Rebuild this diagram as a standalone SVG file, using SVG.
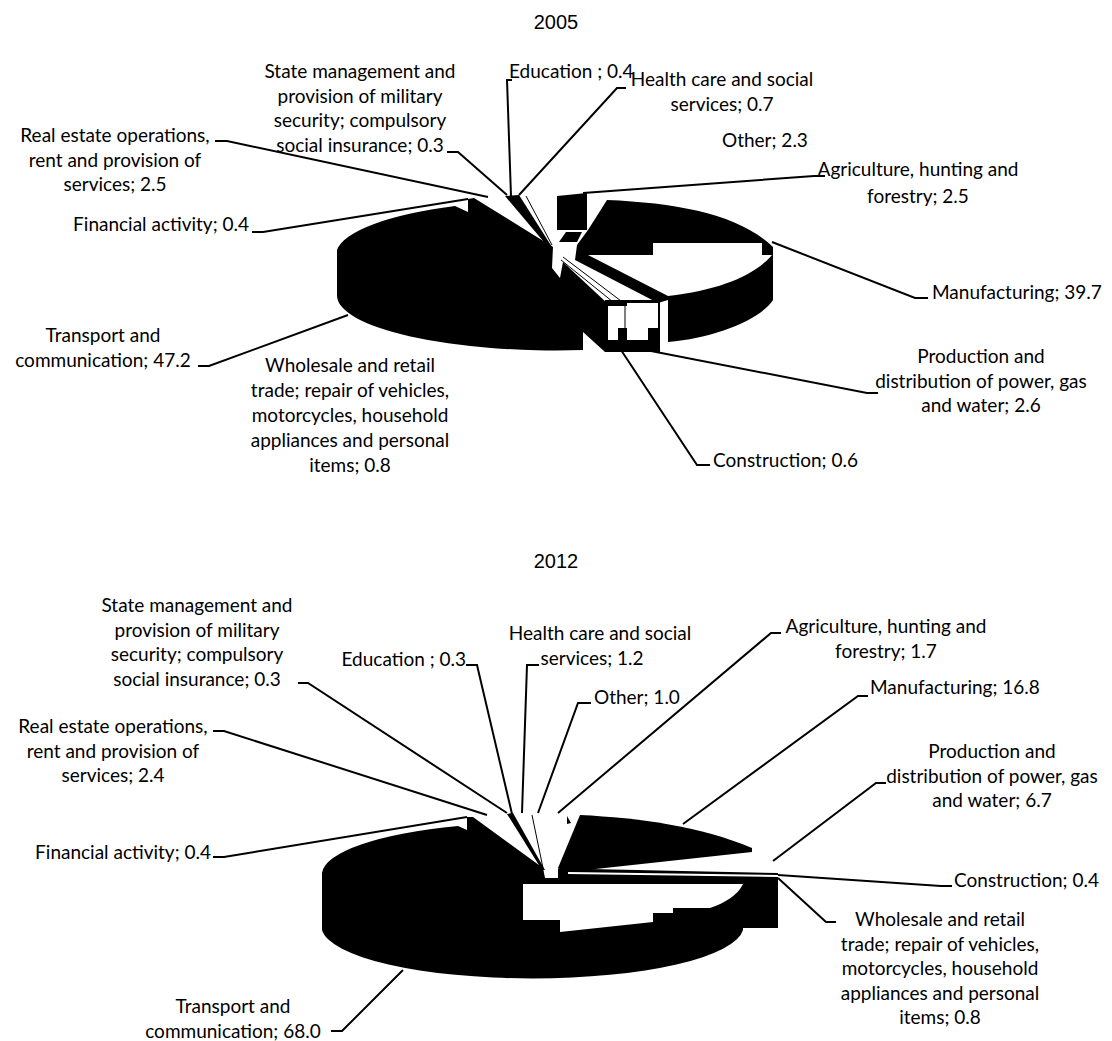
<svg xmlns="http://www.w3.org/2000/svg" width="1112" height="1041" viewBox="0 0 1112 1041">
<style>
.lbl{font-family:Lato,"Liberation Sans",sans-serif;font-size:19px;fill:#000}
.mid{text-anchor:middle}
.end{text-anchor:end}
.ttl{font-family:"Liberation Sans",Arial,sans-serif;font-size:20px;fill:#000;text-anchor:middle}
.blk{fill:#000;stroke:none}
.wht{fill:#fff;stroke:none}
.ld{fill:none;stroke:#000;stroke-width:2}
.th{fill:none;stroke:#000;stroke-width:1}
</style>
<rect width="1112" height="1041" fill="#fff"/>

<!-- ===== 2005 ===== -->
<text class="ttl" x="556" y="29">2005</text>
<g id="p05-transport">
<path class="blk" d="M337,250 A219,55 0 0 1 455,206 L468,212 L468,199 L474,198 L553,247 L552,268 L560,278 L563,262 L608,304 L608,340 L618,340 L618,352 L605,352 L583,332 L583,350 A219,55 0 0 1 337,295 Z"/>
</g>
<g id="p05-manufacturing">
<path class="blk" d="M607,200 C680,203 740,215 773,247 L773,300 C760,320 715,338 668,342 L668,300 L658,303 L575,260 L577,245 L588,230 Z"/>
<path class="wht" d="M588,255 L653,255 L653,243 L762,243 L762,255 L772,255 C755,275 720,290 668,296 Z"/>
</g>
<g id="p05-agriculture">
<path class="blk" d="M557,196 L587,193 L587,230 L557,230 Z"/>
<path class="blk" d="M559,242 L566,232 L582,232 L577,242 Z"/>
</g>
<g id="p05-production">
<path class="blk" d="M605,300 L660,300 L660,352 L605,352 Z"/>
<path class="wht" d="M608,306 L618,306 L618,340 L608,340 Z"/>
<path class="wht" d="M627,303 L658,303 L658,328 L648,328 L648,340 L627,340 Z"/>
<path class="wht" d="M618,306 L627,306 L627,328 L618,328 Z"/>
</g>
<g id="p05-small">
<path class="blk" d="M505,196 L519,195 L552,247 L549,248 Z"/>
<path class="th" d="M526,196 L552,245"/>
<path class="th" d="M563,257 L625,304 L625,352"/>
<path class="th" d="M561,260 L618,306"/>
</g>

<g id="connectors-2005">
<path class="ld" d="M447,152 L458,152 L507,195"/>
<path class="ld" d="M512,80 L507,80 L511,196"/>
<path class="ld" d="M626,88 L617,88 L519,195"/>
<path class="ld" d="M825,176 L814,176 L583,193"/>
<path class="ld" d="M928,298 L915,298 L772,242"/>
<path class="ld" d="M878,393 L867,393 L651,351"/>
<path class="ld" d="M710,465 L697,465 L621,350"/>
<path class="ld" d="M198,366 L209,366 L348,315"/>
<path class="ld" d="M252,232 L263,232 L468,199"/>
<path class="ld" d="M215,141 L227,141 L488,197"/>
</g>

<g id="l05-state"><text class="lbl mid" x="360"><tspan x="360" y="78">State management and</tspan><tspan x="360" y="102.5">provision of military</tspan><tspan x="360" y="127">security; compulsory</tspan><tspan x="360" y="151.5">social insurance; 0.3</tspan></text></g>
<g id="l05-education"><text class="lbl" x="509" y="78">Education ; 0.4</text></g>
<g id="l05-health"><text class="lbl mid"><tspan x="722" y="86">Health care and social</tspan><tspan x="722" y="110.5">services; 0.7</tspan></text></g>
<g id="l05-other"><text class="lbl" x="722" y="147">Other; 2.3</text></g>
<g id="l05-agri"><text class="lbl mid"><tspan x="918" y="176">Agriculture, hunting and</tspan><tspan x="918" y="203">forestry; 2.5</tspan></text></g>
<g id="l05-manu"><text class="lbl" x="932" y="299">Manufacturing; 39.7</text></g>
<g id="l05-prod"><text class="lbl mid"><tspan x="981" y="363">Production and</tspan><tspan x="981" y="387.5">distribution of power, gas</tspan><tspan x="981" y="412">and water; 2.6</tspan></text></g>
<g id="l05-constr"><text class="lbl" x="713" y="467">Construction; 0.6</text></g>
<g id="l05-whole"><text class="lbl mid"><tspan x="350" y="372">Wholesale and retail</tspan><tspan x="350" y="397">trade; repair of vehicles,</tspan><tspan x="350" y="421.5">motorcycles, household</tspan><tspan x="350" y="446.5">appliances and personal</tspan><tspan x="350" y="471.5">items; 0.8</tspan></text></g>
<g id="l05-transport"><text class="lbl mid"><tspan x="103" y="342">Transport and</tspan><tspan x="103" y="366.5">communication; 47.2</tspan></text></g>
<g id="l05-fin"><text class="lbl end" x="249" y="231">Financial activity; 0.4</text></g>
<g id="l05-real"><text class="lbl mid"><tspan x="115" y="142">Real estate operations,</tspan><tspan x="115" y="166.5">rent and provision of</tspan><tspan x="115" y="191">services; 2.5</tspan></text></g>

<!-- ===== 2012 ===== -->
<text class="ttl" x="556" y="568">2012</text>
<g id="p12-transport">
<path class="blk" d="M322,873 A211,52 0 0 1 458,826 L467,830 L467,817 L473,817 L543,868 L778,873 L778,928 L743,928 L743,930 A211,52 0 0 1 322,930 Z"/>
<path class="wht" d="M523,884 L743,884 C738,895 725,903 710,908 L673,908 L673,913 L653,913 L653,922 L560,932 L560,920 L523,920 Z"/>
<path class="wht" d="M543,868 L558,868 L558,878 L545,878 Z"/>
<path class="wht" d="M568,872 L778,875 L778,877 L568,874 Z"/>
</g>
<g id="p12-manufacturing">
<path class="blk" d="M580,815 C640,818 700,826 752,848 L752,852 L568,872 L558,868 Z"/>
</g>
<g id="p12-agriculture">
<path class="blk" d="M567,816 L571,823 L567,824 Z"/>
</g>
<g id="p12-small">
<path class="blk" d="M507,814 L513,813 L545,870 L542,870 Z"/>
<path class="th" d="M532,815 L543,868"/>
</g>

<g id="connectors-2012">
<path class="ld" d="M213,731 L224,731 L487,815"/>
<path class="ld" d="M213,857 L224,857 L467,817"/>
<path class="ld" d="M298,683 L308,683 L507,813"/>
<path class="ld" d="M466,665 L477,665 L512,814"/>
<path class="ld" d="M539,665 L527,665 L522,813"/>
<path class="ld" d="M591,703 L578,703 L538,813"/>
<path class="ld" d="M781,633 L771,633 L558,813"/>
<path class="ld" d="M868,696 L858,696 L683,824"/>
<path class="ld" d="M886,783 L876,783 L773,861"/>
<path class="ld" d="M952,886 L941,886 L778,875"/>
<path class="ld" d="M836,922 L826,922 L778,878"/>
<path class="ld" d="M331,1031 L342,1031 L403,970"/>
</g>

<g id="l12-state"><text class="lbl mid"><tspan x="197" y="612">State management and</tspan><tspan x="197" y="636.5">provision of military</tspan><tspan x="197" y="661">security; compulsory</tspan><tspan x="197" y="685.5">social insurance; 0.3</tspan></text></g>
<g id="l12-education"><text class="lbl end" x="466" y="666">Education ; 0.3</text></g>
<g id="l12-health"><text class="lbl mid"><tspan x="600" y="640">Health care and social</tspan><tspan x="592" y="664.5">services; 1.2</tspan></text></g>
<g id="l12-other"><text class="lbl" x="594" y="704">Other; 1.0</text></g>
<g id="l12-agri"><text class="lbl mid"><tspan x="886" y="633">Agriculture, hunting and</tspan><tspan x="886" y="657.5">forestry; 1.7</tspan></text></g>
<g id="l12-manu"><text class="lbl" x="870" y="694">Manufacturing; 16.8</text></g>
<g id="l12-prod"><text class="lbl mid"><tspan x="992" y="758">Production and</tspan><tspan x="992" y="782.5">distribution of power, gas</tspan><tspan x="992" y="807">and water; 6.7</tspan></text></g>
<g id="l12-constr"><text class="lbl" x="954" y="887">Construction; 0.4</text></g>
<g id="l12-whole"><text class="lbl mid"><tspan x="940" y="926">Wholesale and retail</tspan><tspan x="940" y="950.5">trade; repair of vehicles,</tspan><tspan x="940" y="975">motorcycles, household</tspan><tspan x="940" y="999.5">appliances and personal</tspan><tspan x="940" y="1024">items; 0.8</tspan></text></g>
<g id="l12-transport"><text class="lbl mid"><tspan x="233" y="1013">Transport and</tspan><tspan x="233" y="1037.5">communication; 68.0</tspan></text></g>
<g id="l12-fin"><text class="lbl end" x="211" y="859">Financial activity; 0.4</text></g>
<g id="l12-real"><text class="lbl mid"><tspan x="113" y="733">Real estate operations,</tspan><tspan x="113" y="757.5">rent and provision of</tspan><tspan x="113" y="782">services; 2.4</tspan></text></g>
</svg>
